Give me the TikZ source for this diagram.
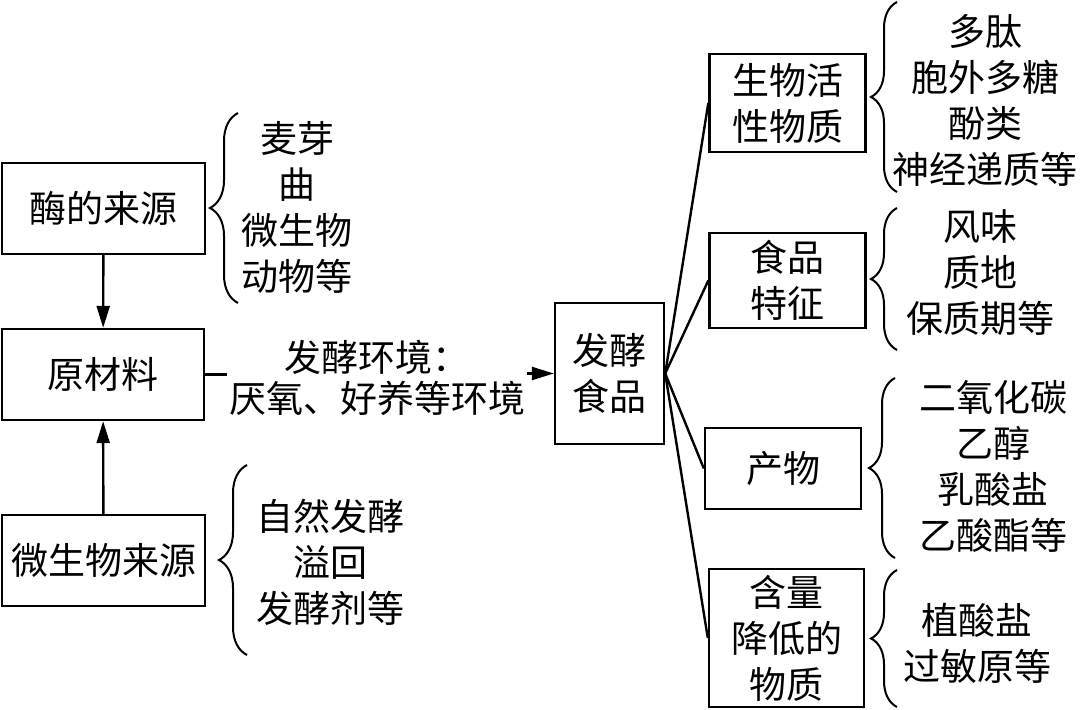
\documentclass[tikz,border=0pt]{standalone}
\usepackage{fontspec}
\setmainfont{Noto Sans CJK SC}
\usepackage{xcolor}
\usepackage{tikz}
\usetikzlibrary{arrows.meta,decorations.pathreplacing}
\definecolor{ink}{HTML}{000000}
\tikzset{
  card/.style={draw=ink, line width=1.2pt, align=center, inner sep=0pt, font=\fontsize{18.5}{23}\selectfont},
  lab/.style={text=ink, align=center, inner sep=0pt, font=\fontsize{18.5}{23}\selectfont},
  link/.style={draw=ink, line width=1.2pt},
  arr/.style={link, -{Triangle[length=11pt,width=6.5pt]}},
  curly/.style={draw=ink, line width=1pt, decorate, decoration={brace, amplitude=#1}},
  curly/.default=14pt,
}

\begin{document}
\begin{tikzpicture}[x=0.5pt,y=-0.5pt]
  \useasboundingbox (0,0) rectangle (1080,710);
  % left column
  \node[card, minimum width=101.5pt, minimum height=45.5pt] (enz) at (103.5,208.5) {酶的来源};
  \node[card, minimum width=101pt, minimum height=45.5pt] (raw) at (103,374.5) {原材料};
  \node[card, minimum width=101.5pt, minimum height=45.5pt] (mic) at (103.5,560.5) {微生物来源};
  \node[lab] (enzlist) at (297,207) {麦芽\\曲\\微生物\\动物等};
  \node[lab] (miclist) at (330,562) {自然发酵\\溢回\\发酵剂等};
  \draw[curly] (238,303) -- (238,113);
  \draw[curly] (247,655) -- (247,465);
  \draw[arr] (enz) -- (raw);
  \draw[arr] (mic) -- (raw);
  % middle
  \node[card, minimum width=54.5pt, minimum height=70.5pt] (food) at (609.5,373.5) {发酵\\食品};
  \node[lab, inner xsep=1pt, font=\fontsize{18.5}{20.5}\selectfont] (env) at (377,377.5) {发酵环境：\\厌氧、好养等环境};
  \draw[link] (raw.east) -- (raw.east -| env.west);
  \draw[arr] (food.west -| env.east) -- (food.west);
  % right column
  \node[card, minimum width=78pt, minimum height=49pt] (bio) at (787.5,103) {生物活\\性物质};
  \node[card, minimum width=78pt, minimum height=47.5pt] (feat) at (787.5,280.5) {食品\\特征};
  \node[card, minimum width=78pt, minimum height=40.5pt] (prod) at (783,468.5) {产物};
  \node[card, minimum width=77.5pt, minimum height=69pt] (less) at (786.5,638) {含量\\降低的\\物质};
  \foreach \n in {bio,feat,prod,less}
    \draw[link] (food.east) -- (\n.west);
  \node[lab] (biolist) at (985,100) {多肽\\胞外多糖\\酚类\\神经递质等};
  \node[lab] (featlist) at (980,273) {风味\\质地\\保质期等};
  \node[lab] (prodlist) at (993,466) {二氧化碳\\乙醇\\乳酸盐\\乙酸酯等};
  \node[lab] (lesslist) at (977,643) {植酸盐\\过敏原等};
  \draw[curly=13pt] (897,192) -- (897,2);
  \draw[curly=13pt] (897,350) -- (897,208);
  \draw[curly=13pt] (895,558) -- (895,378);
  \draw[curly=13pt] (897,707) -- (897,570);
\end{tikzpicture}
\end{document}
